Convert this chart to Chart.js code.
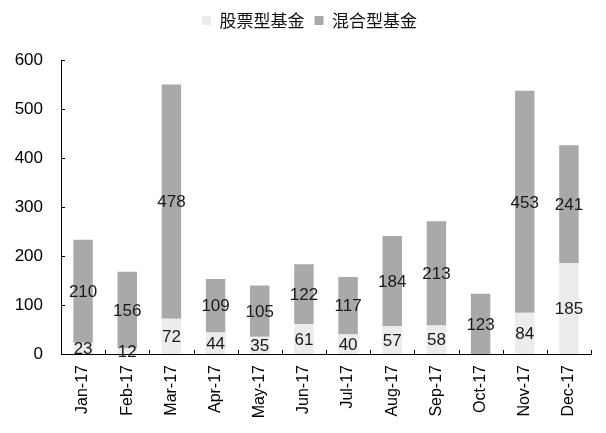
<!DOCTYPE html>
<html>
<head>
<meta charset="utf-8">
<script src="https://cdn.jsdelivr.net/npm/chart.js@4/dist/chart.umd.min.js"></script>
<style>
html,body{margin:0;padding:0;background:#fff;}
#wrap{width:606px;height:433px;}
</style>
</head>
<body>
<div id="wrap"><canvas id="c" width="606" height="433"></canvas></div>
<script>
const categories = ['Jan-17','Feb-17','Mar-17','Apr-17','May-17','Jun-17','Jul-17','Aug-17','Sep-17','Oct-17','Nov-17','Dec-17'];
const stockFund = [23, 12, 72, 44, 35, 61, 40, 57, 58, 0, 84, 185];
const mixedFund = [210, 156, 478, 109, 105, 122, 117, 184, 213, 123, 453, 241];
const seriesNames = ['股票型基金', '混合型基金'];
const yTicks = [0, 100, 200, 300, 400, 500, 600];

const numFont = '17px "Liberation Sans", Arial, sans-serif';

const legendTweak = {
  id: 'legendTweak',
  afterInit(chart) {
    const lg = chart.legend;
    if (!lg) return;
    const origFit = lg.fit.bind(lg);
    lg.fit = function () { origFit(); this.height += 21; };
  },
  afterLayout(chart) {
    const lg = chart.legend;
    if (!lg) return;
    lg.left += 14;
    lg.right += 14;
  }
};

const innerTicks = {
  id: 'innerTicks',
  afterDraw(chart) {
    const ctx = chart.ctx;
    const x = chart.scales.x, y = chart.scales.y;
    ctx.save();
    ctx.strokeStyle = '#000';
    ctx.lineWidth = 1;
    ctx.beginPath();
    yTicks.forEach(v => {
      const py = Math.round(y.getPixelForValue(v)) + 0.5;
      ctx.moveTo(x.left, py);
      ctx.lineTo(x.left + 4, py);
    });
    for (let i = 0; i <= categories.length; i++) {
      const px = Math.round(x.getPixelForValue(i - 0.5)) + 0.5;
      ctx.moveTo(px, y.bottom);
      ctx.lineTo(px, y.bottom - 4);
    }
    ctx.stroke();
    ctx.restore();
  }
};

const barLabels = {
  id: 'barLabels',
  afterDatasetsDraw(chart) {
    const ctx = chart.ctx;
    ctx.save();
    ctx.font = numFont;
    ctx.fillStyle = '#1a1a1a';
    ctx.textAlign = 'center';
    ctx.textBaseline = 'middle';
    chart.data.datasets.forEach((ds, di) => {
      const meta = chart.getDatasetMeta(di);
      meta.data.forEach((el, i) => {
        const v = ds.data[i];
        if (!v) return;
        const cy = (el.y + el.base) / 2;
        ctx.fillText(String(v), el.x, cy + 1);
      });
    });
    ctx.restore();
  }
};

new Chart(document.getElementById('c'), {
  type: 'bar',
  data: {
    labels: categories,
    datasets: [
      { label: seriesNames[0], data: stockFund, backgroundColor: '#ececec', categoryPercentage: 1, barPercentage: 0.44 },
      { label: seriesNames[1], data: mixedFund, backgroundColor: '#a9a9a9', categoryPercentage: 1, barPercentage: 0.44 }
    ]
  },
  options: {
    responsive: false,
    animation: false,
    devicePixelRatio: 1,
    layout: { padding: { left: 0, right: 15, top: 2, bottom: 0 } },
    plugins: {
      legend: {
        display: true,
        position: 'top',
        labels: {
          boxWidth: 9,
          boxHeight: 9,
          padding: 10,
          color: '#111',
          font: { family: '"Noto Sans CJK SC", sans-serif', size: 17 }
        }
      },
      tooltip: { enabled: false }
    },
    scales: {
      x: {
        stacked: true,
        grid: { display: false, drawTicks: false },
        border: { display: true, color: '#000', width: 1 },
        ticks: {
          color: '#000',
          font: { family: '"Liberation Sans", Arial, sans-serif', size: 16 },
          minRotation: 90,
          maxRotation: 90,
          padding: 11,
          autoSkip: false
        },
        afterFit(s) { s.height = 79; }
      },
      y: {
        stacked: true,
        min: 0,
        max: 600,
        grid: { display: false, drawTicks: false },
        border: { display: true, color: '#000', width: 1 },
        ticks: {
          stepSize: 100,
          color: '#000',
          font: { family: '"Liberation Sans", Arial, sans-serif', size: 17 },
          padding: 18
        },
        afterFit(s) { s.width = 61; }
      }
    }
  },
  plugins: [legendTweak, innerTicks, barLabels]
});
</script>
</body>
</html>
